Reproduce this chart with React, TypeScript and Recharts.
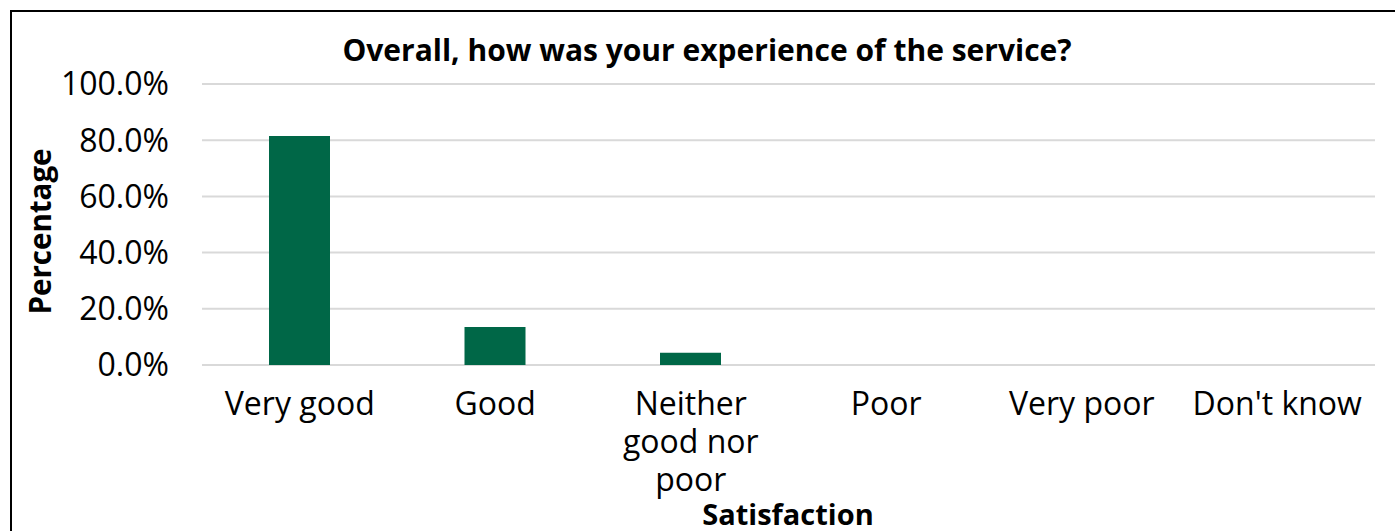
import React from "react";
import { BarChart, Bar, XAxis, YAxis, CartesianGrid } from "recharts";

const categories = ["Very good", "Good", "Neither good nor poor", "Poor", "Very poor", "Don't know"];
const percentages = [0.815, 0.135, 0.044, 0, 0, 0];
const tickLines = [["Very good"], ["Good"], ["Neither", "good nor", "poor"], ["Poor"], ["Very poor"], ["Don't know"]];
const yTicks = [0, 0.2, 0.4, 0.6, 0.8, 1];

const data = categories.map((c, i) => ({ name: c, value: percentages[i] }));

const FONT = "'Open Sans', 'Noto Sans', sans-serif";

const XTick = (props: any) => {
  const { x, y, index } = props;
  const lines = tickLines[index] || [props.payload.value];
  return (
    <text x={x} y={y + 50} textAnchor="middle" fontSize={32} fontFamily={FONT} fill="#000">
      {lines.map((l: string, i: number) => (
        <tspan key={i} x={x} dy={i === 0 ? 0 : 38}>{l}</tspan>
      ))}
    </text>
  );
};

export default function App() {
  return (
    <div style={{ position: "absolute", left: 0, top: 0, width: 1395, height: 531, overflow: "hidden", background: "#fff", fontFamily: FONT }}>
      <div style={{ position: "absolute", left: 10, top: 10, width: 1500, height: 600, border: "2px solid #000" }} />
      <BarChart width={1395} height={531} data={data} margin={{ top: 84, right: 20, left: 62, bottom: 36 }}>
        <CartesianGrid vertical={false} stroke="#d9d9d9" strokeWidth={2} />
        <XAxis dataKey="name" axisLine={false} tickLine={false} tickSize={0} tickMargin={0} height={130} interval={0} tick={<XTick />} />
        <YAxis
          domain={[0, 1]}
          ticks={yTicks}
          width={140}
          axisLine={false}
          tickLine={false}
          tickSize={0}
          tickMargin={33}
          tick={{ fontSize: 32, fill: "#000", fontFamily: FONT }}
          tickFormatter={(v: number) => (v * 100).toFixed(1) + "%"}
        />
        <Bar dataKey="value" fill="#006747" barSize={61} isAnimationActive={false} />
      </BarChart>
      <div style={{ position: "absolute", left: 0, top: 35, width: 1414, textAlign: "center", fontSize: 30, lineHeight: "30px", fontWeight: 700 }}>
        Overall, how was your experience of the service?
      </div>
      <div style={{ position: "absolute", left: 588, top: 499, width: 400, textAlign: "center", fontSize: 29, lineHeight: "29px", fontWeight: 700 }}>
        Satisfaction
      </div>
      <div style={{ position: "absolute", left: -111.5, top: 216.5, width: 300, height: 29, textAlign: "center", fontSize: 29.5, lineHeight: "29px", fontWeight: 700, transform: "rotate(-90deg)" }}>
        Percentage
      </div>
    </div>
  );
}
